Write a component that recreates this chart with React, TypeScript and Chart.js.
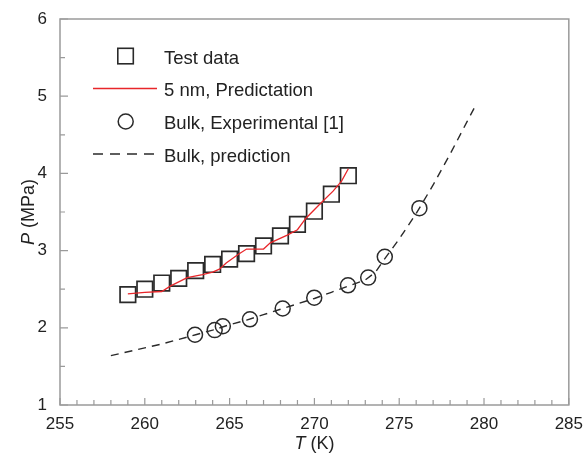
import React, { useEffect, useRef } from 'react';
import { Chart, registerables } from 'chart.js';

Chart.register(...registerables);

// Test data (squares)
const testT = [259, 260, 261, 262, 263, 264, 265, 266, 267, 268, 269, 270, 271, 272];
const testP = [2.43, 2.5, 2.58, 2.64, 2.74, 2.82, 2.89, 2.96, 3.06, 3.19, 3.34, 3.51, 3.73, 3.97];

// 5 nm prediction (red line)
const predT = [259, 260, 261, 261.5, 262.5, 263.4, 264, 264.4, 264.8, 265.5, 266, 267, 267.4, 268.4, 269, 269.5, 270.4, 271.1, 271.6, 272];
const predP = [2.44, 2.46, 2.47, 2.54, 2.65, 2.69, 2.72, 2.76, 2.84, 2.95, 3.02, 3.02, 3.1, 3.2, 3.27, 3.42, 3.62, 3.77, 3.9, 4.06];

// Bulk experimental [1] (circles)
const bulkExpT = [262.96, 264.12, 264.6, 266.2, 268.13, 269.99, 271.98, 273.17, 274.15, 276.19];
const bulkExpP = [1.91, 1.97, 2.02, 2.11, 2.25, 2.39, 2.55, 2.65, 2.92, 3.55];

// Bulk prediction (dashed line)
const bulkPredT = [258, 259, 260, 261, 262, 263, 264, 265, 266, 267, 268, 269, 270, 271, 272, 273, 273.6, 274, 275, 276, 277, 278, 279, 279.5];
const bulkPredP = [1.64, 1.69, 1.74, 1.79, 1.85, 1.91, 1.97, 2.04, 2.1, 2.17, 2.24, 2.31, 2.38, 2.46, 2.54, 2.62, 2.72, 2.85, 3.15, 3.48, 3.85, 4.25, 4.67, 4.88];

const legendLabels = ['Test data', '5 nm, Predictation', 'Bulk, Experimental [1]', 'Bulk, prediction'];
const xTitle = ['T', ' (K)'];
const yTitle = ['P', ' (MPa)'];

const FONT = '"Liberation Sans", Arial, Helvetica, sans-serif';
const AXIS_COLOR = '#9a9a9a';
const TEXT_COLOR = '#222222';
const RED = '#e8262a';
const DARK = '#2a2a2a';

const toXY = (xs: number[], ys: number[]) => xs.map((x, i) => ({ x, y: ys[i] }));

const decorPlugin = {
  id: 'decor',
  beforeDatasetsDraw(chart: any) {
    const { ctx, chartArea: a, scales } = chart;
    const x = scales.x;
    const y = scales.y;
    ctx.save();
    ctx.strokeStyle = AXIS_COLOR;
    ctx.lineWidth = 1.5;
    ctx.strokeRect(a.left, a.top, a.right - a.left, a.bottom - a.top);
    ctx.beginPath();
    for (let t = 255; t <= 285; t++) {
      const px = x.getPixelForValue(t);
      const len = t % 5 === 0 ? 7 : 5;
      ctx.moveTo(px, a.bottom);
      ctx.lineTo(px, a.bottom - len);
    }
    for (let v = 1; v <= 6; v += 0.5) {
      const py = y.getPixelForValue(v);
      const len = Number.isInteger(v) ? 8 : 5;
      ctx.moveTo(a.left, py);
      ctx.lineTo(a.left + len, py);
    }
    ctx.lineWidth = 1.2;
    ctx.stroke();
    ctx.restore();
  },
  afterDraw(chart: any) {
    const { ctx, chartArea: a } = chart;
    ctx.save();
    // legend
    const textX = 164;
    const baselines = [63.5, 96, 128.5, 161.5];
    ctx.font = `18.5px ${FONT}`;
    ctx.fillStyle = TEXT_COLOR;
    ctx.textAlign = 'left';
    ctx.textBaseline = 'alphabetic';
    legendLabels.forEach((lab, i) => ctx.fillText(lab, textX, baselines[i]));

    ctx.strokeStyle = DARK;
    ctx.lineWidth = 1.6;
    ctx.strokeRect(117.8, 48.3, 15.5, 15.5);

    ctx.beginPath();
    ctx.strokeStyle = RED;
    ctx.lineWidth = 1.4;
    ctx.moveTo(93, 88.5);
    ctx.lineTo(157, 88.5);
    ctx.stroke();

    ctx.beginPath();
    ctx.strokeStyle = DARK;
    ctx.lineWidth = 1.5;
    ctx.arc(125.7, 121.5, 7.5, 0, Math.PI * 2);
    ctx.stroke();

    ctx.beginPath();
    ctx.setLineDash([10, 7]);
    ctx.lineWidth = 1.4;
    ctx.moveTo(93, 154);
    ctx.lineTo(156, 154);
    ctx.stroke();
    ctx.setLineDash([]);

    // axis titles
    const drawTitle = (parts: string[], cx: number, cy: number) => {
      ctx.font = `italic 18px ${FONT}`;
      const w0 = ctx.measureText(parts[0]).width;
      ctx.font = `18px ${FONT}`;
      const w1 = ctx.measureText(parts[1]).width;
      const start = cx - (w0 + w1) / 2;
      ctx.textAlign = 'left';
      ctx.textBaseline = 'middle';
      ctx.font = `italic 18px ${FONT}`;
      ctx.fillText(parts[0], start, cy);
      ctx.font = `18px ${FONT}`;
      ctx.fillText(parts[1], start + w0, cy);
    };
    ctx.fillStyle = TEXT_COLOR;
    drawTitle(xTitle, (a.left + a.right) / 2, 444);
    ctx.save();
    ctx.translate(29, (a.top + a.bottom) / 2);
    ctx.rotate(-Math.PI / 2);
    drawTitle(yTitle, 0, 0);
    ctx.restore();
    ctx.restore();
  },
};

export default function App() {
  const canvasRef = useRef<HTMLCanvasElement | null>(null);

  useEffect(() => {
    document.body.style.margin = '0';
    const canvas = canvasRef.current;
    if (!canvas) return;
    const chart = new Chart(canvas, {
      type: 'scatter',
      data: {
        datasets: [
          {
            label: legendLabels[1],
            data: toXY(predT, predP),
            showLine: true,
            borderColor: RED,
            borderWidth: 1.3,
            pointRadius: 0,
            tension: 0,
            order: 0,
          },
          {
            label: legendLabels[3],
            data: toXY(bulkPredT, bulkPredP),
            showLine: true,
            borderColor: DARK,
            borderWidth: 1.4,
            borderDash: [8, 6],
            pointRadius: 0,
            tension: 0,
            order: 0,
          },
          {
            label: legendLabels[0],
            data: toXY(testT, testP),
            pointStyle: 'rect',
            pointRadius: 11,
            pointBorderWidth: 1.7,
            pointBorderColor: DARK,
            pointBackgroundColor: 'rgba(0,0,0,0)',
            showLine: false,
            order: 1,
          },
          {
            label: legendLabels[2],
            data: toXY(bulkExpT, bulkExpP),
            pointStyle: 'circle',
            pointRadius: 7.5,
            pointBorderWidth: 1.5,
            pointBorderColor: DARK,
            pointBackgroundColor: 'rgba(0,0,0,0)',
            showLine: false,
            order: 1,
          },
        ],
      },
      options: {
        responsive: false,
        animation: false,
        events: [],
        layout: { padding: { top: 19, right: 11.5, left: 0, bottom: 0 } },
        plugins: { legend: { display: false }, tooltip: { enabled: false } },
        scales: {
          x: {
            type: 'linear',
            min: 255,
            max: 285,
            grid: { display: false },
            border: { display: false },
            ticks: { stepSize: 5, padding: 1, color: TEXT_COLOR, font: { family: FONT, size: 17 } },
            afterFit: (s: any) => { s.height = 51; },
          },
          y: {
            type: 'linear',
            min: 1,
            max: 6,
            grid: { display: false },
            border: { display: false },
            ticks: { stepSize: 1, padding: 5, color: TEXT_COLOR, font: { family: FONT, size: 17 } },
            afterFit: (s: any) => { s.width = 60; },
          },
        },
      },
      plugins: [decorPlugin],
    });
    return () => chart.destroy();
  }, []);

  return (
    <div style={{ width: 584, height: 456 }}>
      <canvas ref={canvasRef} width={584} height={456} style={{ display: 'block' }} />
    </div>
  );
}
